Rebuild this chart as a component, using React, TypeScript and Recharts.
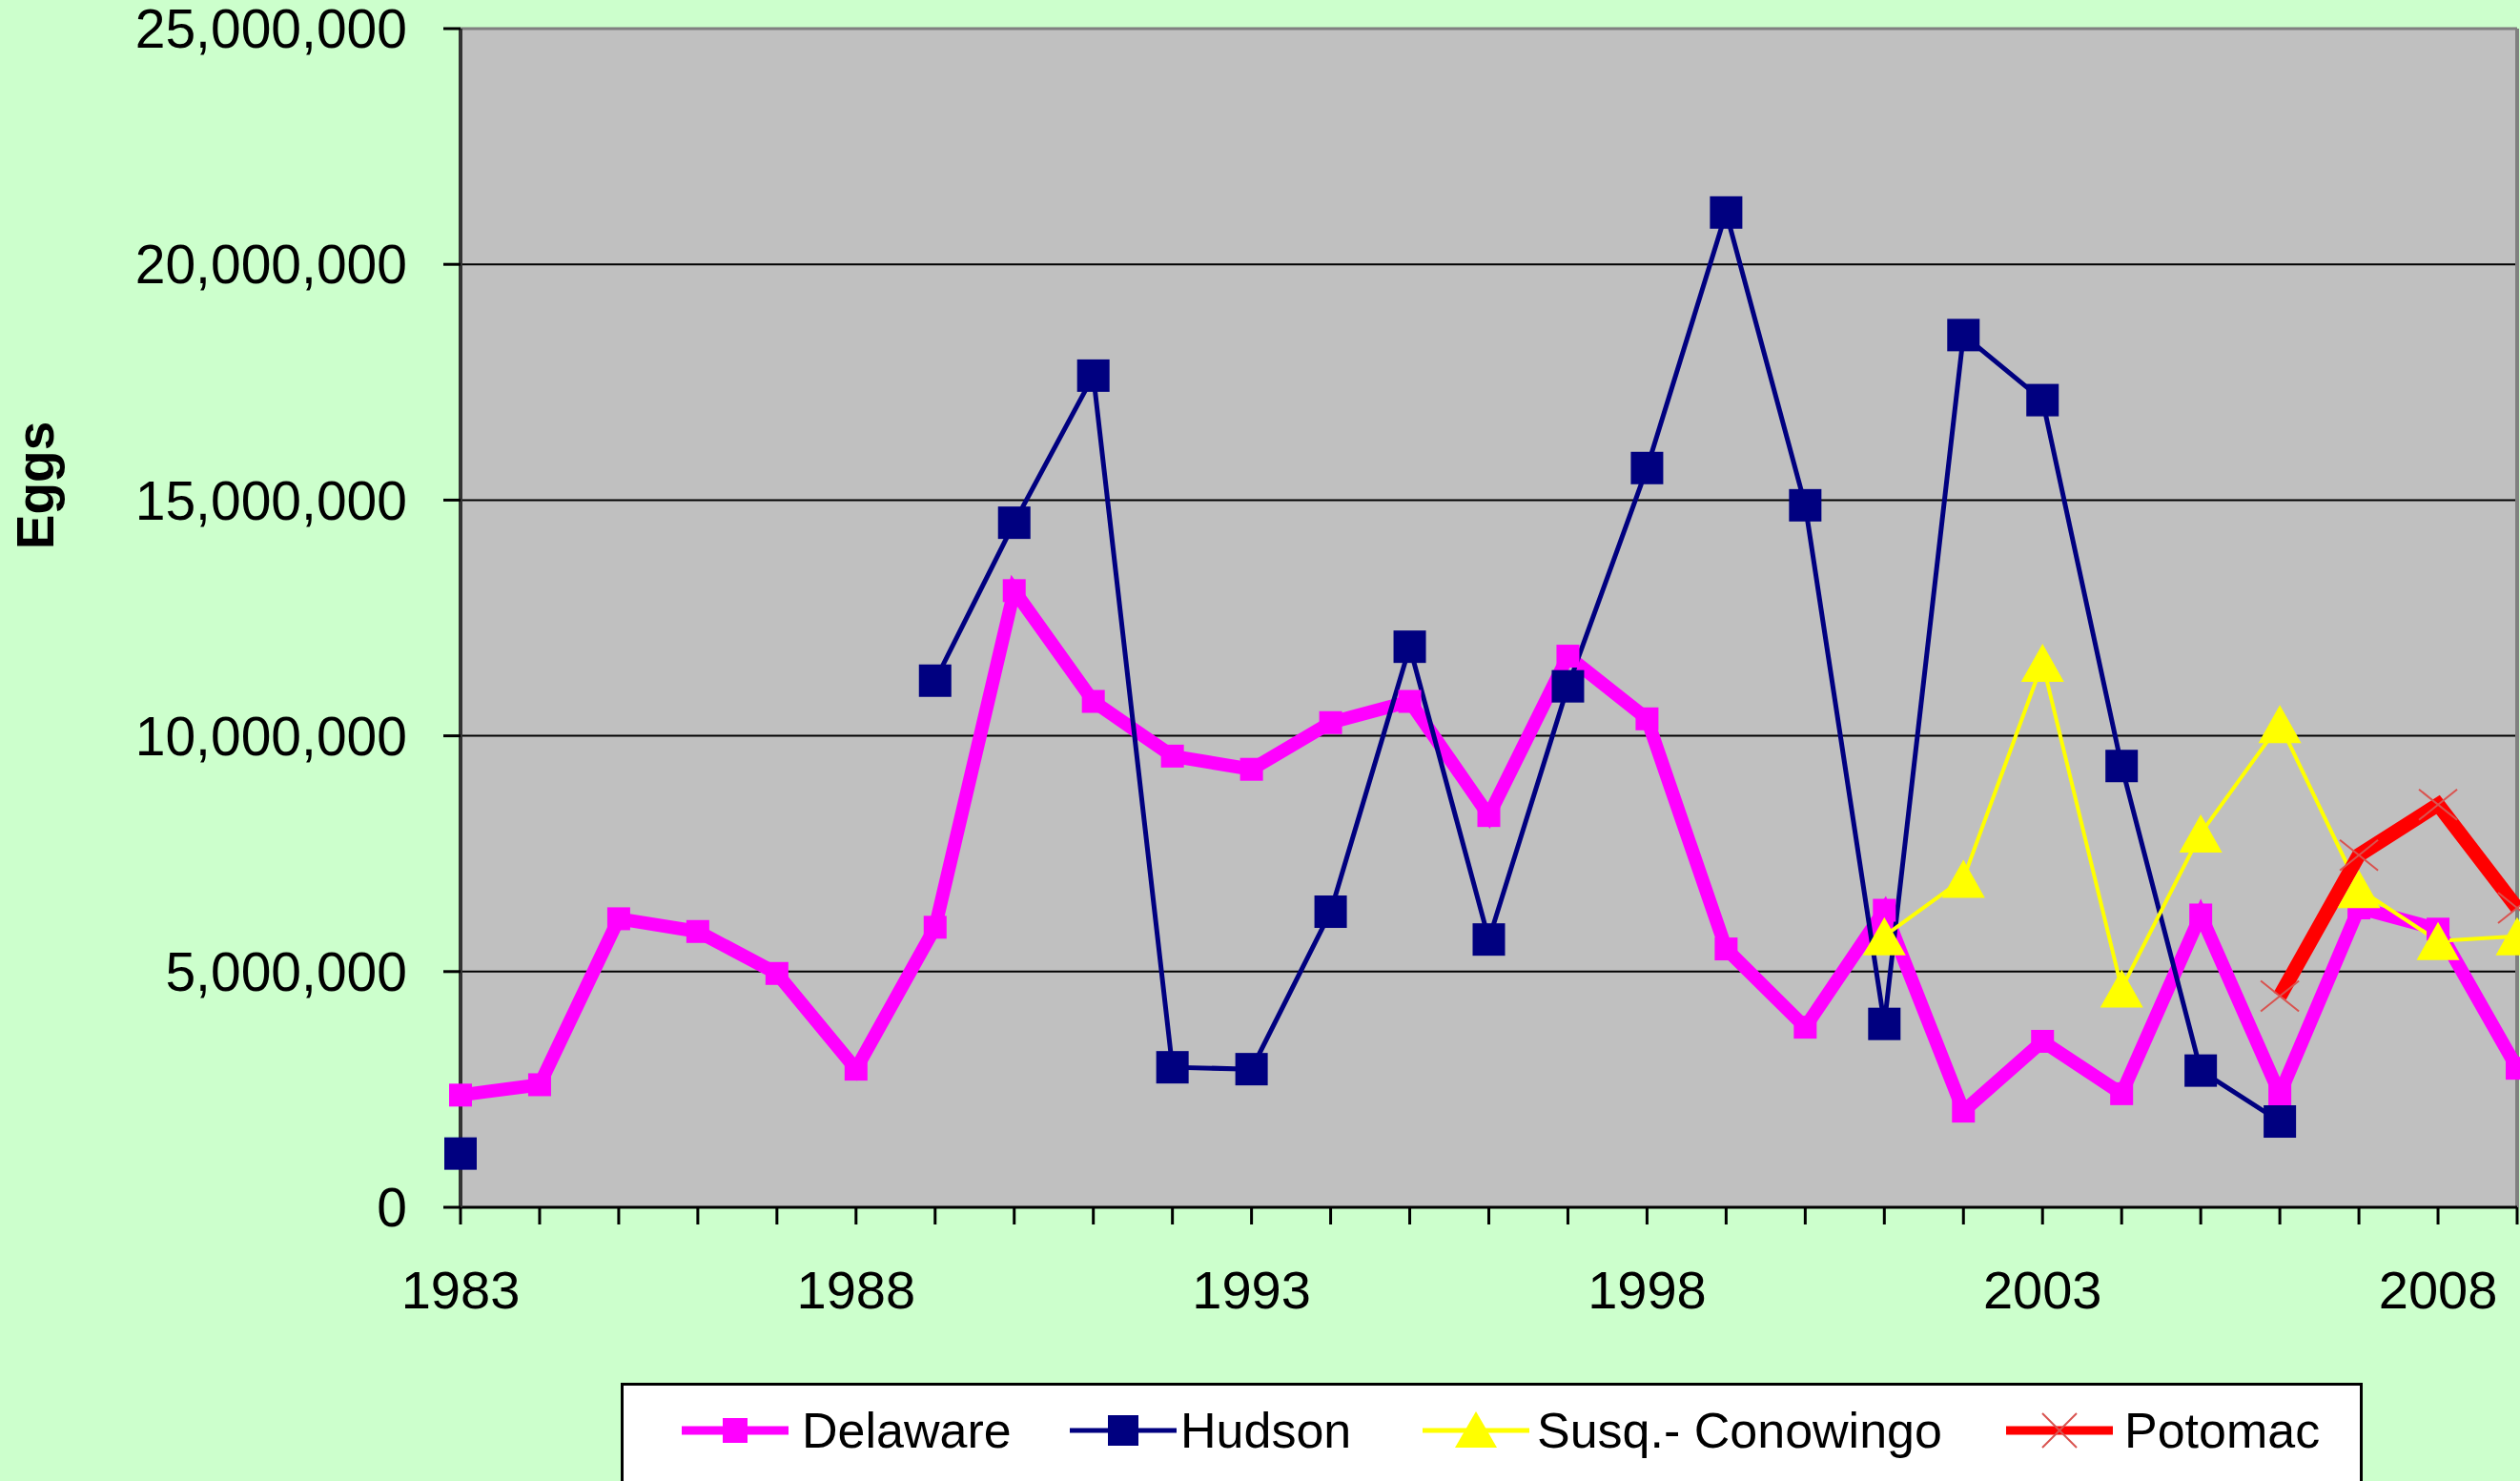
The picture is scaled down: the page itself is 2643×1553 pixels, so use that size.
import {
  LineChart,
  Line,
  XAxis,
  YAxis,
  CartesianGrid,
  ReferenceLine,
  Legend,
} from "recharts";

// Egg production per river system, 1983-2009
const YEARS = [
  1983, 1984, 1985, 1986, 1987, 1988, 1989, 1990, 1991, 1992, 1993, 1994, 1995, 1996,
  1997, 1998, 1999, 2000, 2001, 2002, 2003, 2004, 2005, 2006, 2007, 2008, 2009,
];

const DELAWARE = [
  2380000, 2600000, 6120000, 5850000, 4960000, 2930000, 5940000, 13080000, 10730000,
  9570000, 9290000, 10280000, 10730000, 8310000, 11690000, 10360000, 5480000, 3820000,
  6300000, 2040000, 3520000, 2410000, 6200000, 2400000, 6350000, 5900000, 2950000,
];

const HUDSON = [
  1140000, null, null, null, null, null, 11170000, 14520000, 17640000, 2970000, 2930000,
  6270000, 11890000, 5680000, 11050000, 15680000, 21100000, 14890000, 3890000, 18500000,
  17120000, 9360000, 2900000, 1820000, null, null, null,
];

const SUSQ_CONOWINGO = [
  null, null, null, null, null, null, null, null, null, null, null, null, null, null,
  null, null, null, null, 5750000, 6970000, 11550000, 4640000, 7930000, 10250000,
  6750000, 5650000, 5750000,
];

const POTOMAC = [
  null, null, null, null, null, null, null, null, null, null, null, null, null, null,
  null, null, null, null, null, null, null, null, null, 4480000, 7470000, 8540000,
  6350000,
];

const Y_TICKS = [0, 5000000, 10000000, 15000000, 20000000, 25000000];

const data = YEARS.map((year, i) => ({
  year,
  Delaware: DELAWARE[i],
  Hudson: HUDSON[i],
  "Susq.- Conowingo": SUSQ_CONOWINGO[i],
  Potomac: POTOMAC[i],
}));

const FONT = '"Liberation Sans", Arial, sans-serif';
const MAGENTA = "#FF00FF";
const NAVY = "#000080";
const YELLOW = "#FFFF00";
const RED = "#FF0000";
const X_MARK = "#D9534F";

const squareDot = (size: number, fill: string) => (props: any) => {
  const { cx, cy, index } = props;
  if (cx == null || cy == null) return <g key={`s-${index}`} />;
  return (
    <rect key={`s-${index}`} x={cx - size / 2} y={cy - size / 2} width={size} height={size} fill={fill} />
  );
};

const triangleDot = (w: number, h: number, fill: string) => (props: any) => {
  const { cx, cy, index } = props;
  if (cx == null || cy == null) return <g key={`t-${index}`} />;
  const pts = `${cx},${cy - h / 2} ${cx + w / 2},${cy + h / 2} ${cx - w / 2},${cy + h / 2}`;
  return <polygon key={`t-${index}`} points={pts} fill={fill} />;
};

const crossDot = (w: number, h: number, stroke: string) => (props: any) => {
  const { cx, cy, index } = props;
  if (cx == null || cy == null) return <g key={`x-${index}`} />;
  return (
    <g key={`x-${index}`} stroke={stroke} strokeWidth={2}>
      <line x1={cx - w / 2} y1={cy - h / 2} x2={cx + w / 2} y2={cy + h / 2} />
      <line x1={cx - w / 2} y1={cy + h / 2} x2={cx + w / 2} y2={cy - h / 2} />
    </g>
  );
};

// left offset of each legend entry inside the legend box
const LEGEND_ITEMS = [
  { name: "Delaware", color: MAGENTA, width: 9, marker: "smallSquare", left: 61, textGap: 14 },
  { name: "Hudson", color: NAVY, width: 5, marker: "square", left: 468, textGap: 4 },
  { name: "Susq.- Conowingo", color: YELLOW, width: 5, marker: "triangle", left: 838, textGap: 8 },
  { name: "Potomac", color: RED, width: 9, marker: "cross", left: 1450, textGap: 12 },
];

const LegendMarker = ({ marker, color }: { marker: string; color: string }) => {
  if (marker === "smallSquare") return <rect x={43} y={17} width={26} height={26} fill={color} />;
  if (marker === "square") return <rect x={40} y={14} width={32} height={32} fill={color} />;
  if (marker === "triangle") return <polygon points="56,10 78,48 34,48" fill={color} />;
  return (
    <g stroke={X_MARK} strokeWidth={2}>
      <line x1={38} y1={12} x2={74} y2={48} />
      <line x1={38} y1={48} x2={74} y2={12} />
    </g>
  );
};

const LegendBox = () => (
  <div
    style={{
      position: "relative",
      boxSizing: "border-box",
      width: 1827,
      height: 140,
      border: "3px solid #000",
      background: "#fff",
      fontFamily: FONT,
    }}
  >
    {LEGEND_ITEMS.map((item) => (
      <div
        key={item.name}
        style={{ position: "absolute", left: item.left, top: 17, display: "flex", alignItems: "center", height: 60 }}
      >
        <svg width={112} height={60} style={{ display: "block" }}>
          <line x1={0} y1={30} x2={112} y2={30} stroke={item.color} strokeWidth={item.width} />
          <LegendMarker marker={item.marker} color={item.color} />
        </svg>
        <span
          style={{ marginLeft: item.textGap, fontSize: 52, lineHeight: "60px", color: "#000", whiteSpace: "nowrap" }}
        >
          {item.name}
        </span>
      </div>
    ))}
  </div>
);

const EggsLabel = () => (
  <text
    x={37}
    y={509}
    transform="rotate(-90, 37, 509)"
    textAnchor="middle"
    dominantBaseline="central"
    fontFamily={FONT}
    fontWeight="bold"
    fontSize={55}
    fill="#000"
  >
    Eggs
  </text>
);

export default function App() {
  return (
    <div style={{ position: "absolute", left: 0, top: 0, width: 2643, height: 1553, background: "#CCFFCC" }}>
      <LineChart
        width={2643}
        height={1553}
        data={data}
        margin={{ top: 30, right: 3, bottom: 187, left: 0 }}
        style={{ fontFamily: FONT }}
      >
        <CartesianGrid vertical={false} stroke="#000" strokeWidth={2} fill="#C0C0C0" fillOpacity={1} />
        <XAxis
          dataKey="year"
          type="number"
          domain={[1983, 2009]}
          ticks={YEARS}
          interval={0}
          height={100}
          tickFormatter={(y: number) => ((y - 1983) % 5 === 0 ? String(y) : "")}
          tick={{ fontSize: 56, fill: "#000", fontFamily: FONT }}
          tickSize={18}
          tickMargin={48}
          axisLine={{ stroke: "#000", strokeWidth: 3 }}
          tickLine={{ stroke: "#000", strokeWidth: 3 }}
        />
        <YAxis
          type="number"
          domain={[0, 25000000]}
          ticks={Y_TICKS}
          interval={0}
          width={483}
          tickFormatter={(v: number) => v.toLocaleString("en-US")}
          tick={{ fontSize: 57, fill: "#000", fontFamily: FONT }}
          tickSize={18}
          tickMargin={38}
          axisLine={{ stroke: "#333", strokeWidth: 4 }}
          tickLine={{ stroke: "#000", strokeWidth: 3 }}
          label={{ content: <EggsLabel /> }}
        />
        <ReferenceLine y={25000000} stroke="#808080" strokeWidth={3} />
        <ReferenceLine x={2009} stroke="#808080" strokeWidth={4} />
        <Legend
          layout="horizontal"
          verticalAlign="middle"
          align="center"
          width={1827}
          wrapperStyle={{ left: 651, top: 1450, width: 1827, height: 140 }}
          content={<LegendBox />}
        />
        <Line
          type="linear"
          dataKey="Delaware"
          stroke={MAGENTA}
          strokeWidth={14}
          dot={squareDot(24, MAGENTA)}
          activeDot={false}
          isAnimationActive={false}
        />
        <Line
          type="linear"
          dataKey="Hudson"
          stroke={NAVY}
          strokeWidth={5}
          dot={squareDot(34, NAVY)}
          activeDot={false}
          isAnimationActive={false}
        />
        <Line
          type="linear"
          dataKey="Susq.- Conowingo"
          stroke={YELLOW}
          strokeWidth={4}
          dot={triangleDot(45, 40, YELLOW)}
          activeDot={false}
          isAnimationActive={false}
        />
        <Line
          type="linear"
          dataKey="Potomac"
          stroke={RED}
          strokeWidth={15}
          dot={crossDot(40, 32, X_MARK)}
          activeDot={false}
          isAnimationActive={false}
        />
      </LineChart>
    </div>
  );
}
